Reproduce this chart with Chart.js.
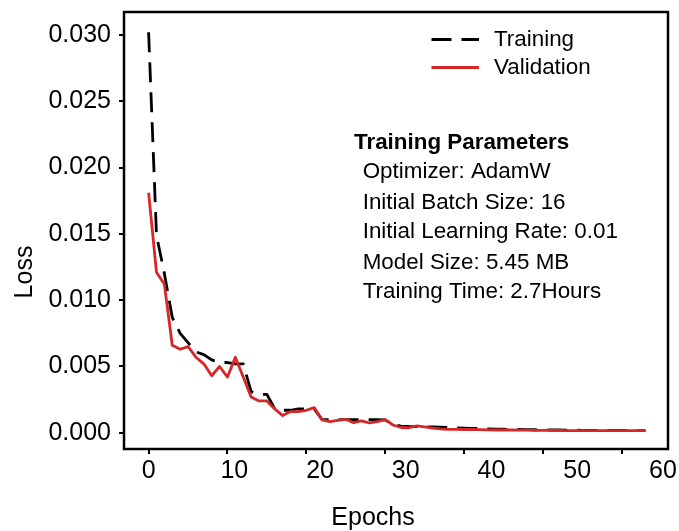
<!DOCTYPE html>
<html>
<head>
<meta charset="utf-8">
<title>Loss curves</title>
<script src="https://cdn.jsdelivr.net/npm/chart.js@4.4.1/dist/chart.umd.min.js"></script>
<style>
  html, body { margin: 0; padding: 0; background: #fff; }
  #wrap { width: 679px; height: 531px; }
</style>
</head>
<body>
<div id="wrap"><canvas id="lossChart" width="679" height="531"></canvas></div>
<script>
const epochs = [
  0, 1, 2, 3, 4, 5, 6, 7, 8, 9, 10, 11, 12, 13, 14, 15,
  16, 17, 18, 19, 20, 21, 22, 23, 24, 25, 26, 27, 28, 29, 30, 31,
  32, 33, 34, 35, 36, 37, 38, 39, 40, 41, 42, 43, 44, 45, 46, 47,
  48, 49, 50, 51, 52, 53, 54, 55, 56, 57, 58, 59, 60, 61, 62, 63
];

const trainingLoss = [
  0.0302, 0.0149, 0.0120, 0.0087, 0.0075, 0.0068, 0.0061, 0.0059,
  0.0055, 0.0053, 0.0053, 0.0052, 0.0052, 0.0031, 0.0029, 0.0029,
  0.0018, 0.0017, 0.0017, 0.0018, 0.0018, 0.0018, 0.0010, 0.0010,
  0.0010, 0.0010, 0.0010, 0.0010, 0.0010, 0.0010, 0.00097, 0.00063,
  0.00051, 0.00048, 0.00047, 0.00046, 0.00044, 0.00042, 0.00040, 0.00038,
  0.00036, 0.00034, 0.00032, 0.00030, 0.00028, 0.00027, 0.00026, 0.00025,
  0.00024, 0.00023, 0.00022, 0.00021, 0.00021, 0.00020, 0.00020, 0.00019,
  0.00019, 0.00019, 0.00018, 0.00018, 0.00018, 0.00018, 0.00017, 0.00017
];

const validationLoss = [
  0.0181, 0.0121, 0.0112, 0.0066, 0.0063, 0.0065, 0.0057, 0.0052,
  0.0043, 0.0050, 0.0042, 0.0057, 0.0042, 0.0027, 0.0024, 0.0024,
  0.0018, 0.0013, 0.0016, 0.0016, 0.0017, 0.0019, 0.00097, 0.00084,
  0.00093, 0.00102, 0.00076, 0.00090, 0.00074, 0.00085, 0.00100, 0.00059,
  0.00040, 0.00038, 0.00053, 0.00044, 0.00036, 0.00029, 0.00026, 0.00026,
  0.00025, 0.00025, 0.00024, 0.00022, 0.00021, 0.00021, 0.00021, 0.00020,
  0.00020, 0.00019, 0.00019, 0.00018, 0.00018, 0.00017, 0.00017, 0.00017,
  0.00016, 0.00016, 0.00016, 0.00016, 0.00016, 0.00016, 0.00016, 0.00016
];

const yTickValues = [0, 0.005, 0.010, 0.015, 0.020, 0.025, 0.030];
const xTickValues = [0, 10, 20, 30, 40, 50, 60];

const paramTitle = "Training Parameters";
const paramLines = [
  "Optimizer: AdamW",
  "Initial Batch Size: 16",
  "Initial Learning Rate: 0.01",
  "Model Size: 5.45 MB",
  "Training Time: 2.7Hours"
];

const FONT = '"Liberation Sans", Arial, Helvetica, sans-serif';

// frame, axis titles, legend and the parameter box
const annotationsPlugin = {
  id: "lossAnnotations",
  afterDraw(chart) {
    const { ctx, chartArea } = chart;
    ctx.save();

    ctx.strokeStyle = "#000";
    ctx.lineWidth = 2.5;
    ctx.setLineDash([]);
    ctx.strokeRect(chartArea.left, chartArea.top,
      chartArea.right - chartArea.left, chartArea.bottom - chartArea.top);

    ctx.fillStyle = "#000";
    ctx.font = `25px ${FONT}`;
    ctx.textAlign = "center";
    ctx.textBaseline = "alphabetic";
    ctx.fillText("Epochs", 373, 525);

    ctx.save();
    ctx.translate(32, 272);
    ctx.rotate(-Math.PI / 2);
    ctx.fillText("Loss", 0, 0);
    ctx.restore();

    // legend rows
    const legendRows = [39.5, 67.5];
    ctx.font = `22.4px ${FONT}`;
    ctx.textAlign = "left";
    ctx.textBaseline = "middle";
    chart.data.datasets.forEach((ds, i) => {
      const y = legendRows[i];
      ctx.strokeStyle = ds.borderColor;
      ctx.lineWidth = ds.borderWidth;
      ctx.setLineDash(ds.borderDash || []);
      ctx.beginPath();
      ctx.moveTo(431.5, y);
      ctx.lineTo(479, y);
      ctx.stroke();
      ctx.setLineDash([]);
      ctx.fillStyle = "#000";
      ctx.fillText(ds.label, 494, y);
    });

    ctx.font = `bold 22.4px ${FONT}`;
    ctx.fillText(paramTitle, 354, 143);
    ctx.font = `22.4px ${FONT}`;
    const rowY = [172, 203.3, 231.7, 263.3, 291.7];
    paramLines.forEach((line, i) => ctx.fillText(line, 362.7, rowY[i]));

    ctx.restore();
  }
};

const tickFont = { family: FONT, size: 25 };

new Chart(document.getElementById("lossChart"), {
  type: "line",
  data: {
    datasets: [
      {
        label: "Training",
        data: epochs.map((e, i) => ({ x: e, y: trainingLoss[i] })),
        borderColor: "#000000",
        borderWidth: 2.8,
        borderDash: [20, 10],
        borderJoinStyle: "round",
        pointRadius: 0,
        tension: 0,
        fill: false,
        order: 1
      },
      {
        label: "Validation",
        data: epochs.map((e, i) => ({ x: e, y: validationLoss[i] })),
        borderColor: "#d62728",
        borderWidth: 2.8,
        borderJoinStyle: "round",
        pointRadius: 0,
        tension: 0,
        fill: false,
        order: 0
      }
    ]
  },
  options: {
    responsive: false,
    animation: false,
    events: [],
    layout: { padding: { top: 12, right: 11, left: 0, bottom: 0 } },
    plugins: { legend: { display: false }, tooltip: { enabled: false } },
    scales: {
      // data axis: carries the tick marks
      x: {
        type: "linear",
        position: "bottom",
        weight: 0,
        min: -3.12,
        max: 65.86,
        border: { display: false },
        grid: { drawOnChartArea: false, drawTicks: true, tickLength: 5, color: "#000", lineWidth: 2 },
        ticks: { display: false },
        afterBuildTicks: (s) => { s.ticks = xTickValues.map(v => ({ value: v })); },
        afterFit: (s) => { s.height = 0; s.paddingLeft = 0; s.paddingRight = 0; }
      },
      // label row under the axis
      xLabels: {
        type: "linear",
        axis: "x",
        position: "bottom",
        weight: 1,
        min: -2.87,
        max: 60.59,
        border: { display: false },
        grid: { display: false, drawTicks: false },
        ticks: {
          padding: 7,
          color: "#000",
          font: tickFont,
          maxRotation: 0,
          autoSkip: false,
          callback: (v) => String(v)
        },
        afterBuildTicks: (s) => { s.ticks = xTickValues.map(v => ({ value: v })); },
        afterFit: (s) => { s.height = 82; s.paddingLeft = 0; s.paddingRight = 0; }
      },
      y: {
        type: "linear",
        min: -0.001221,
        max: 0.031727,
        border: { display: false },
        grid: { drawOnChartArea: false, drawTicks: true, tickLength: 5, color: "#000", lineWidth: 2 },
        ticks: {
          padding: 8,
          color: "#000",
          font: tickFont,
          callback: (v) => v.toFixed(3)
        },
        afterBuildTicks: (s) => { s.ticks = yTickValues.map(v => ({ value: v })); },
        afterFit: (s) => { s.width = 124; s.paddingTop = 0; s.paddingBottom = 0; }
      }
    }
  },
  plugins: [annotationsPlugin]
});
</script>
</body>
</html>
